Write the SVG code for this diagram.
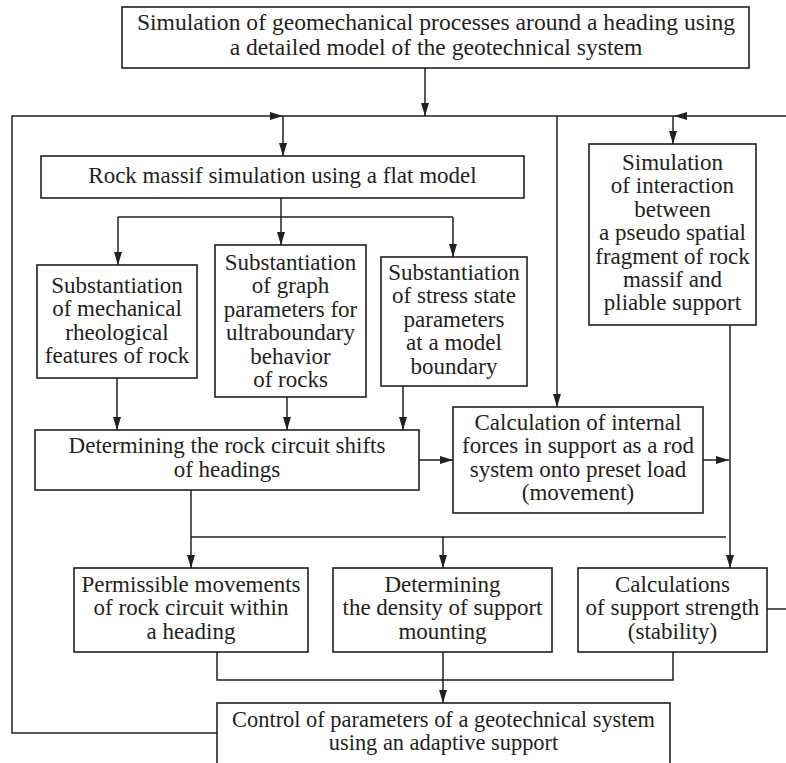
<svg xmlns="http://www.w3.org/2000/svg" width="786" height="763" viewBox="0 0 786 763">
<defs>
<marker id="ah" markerUnits="userSpaceOnUse" markerWidth="13" markerHeight="8" refX="13" refY="4" orient="auto">
<path d="M0,0 L13,4 L0,8 z" fill="#231f20"/>
</marker>
<style>
rect{fill:#fff;stroke:#231f20;stroke-width:1.6}
text{font-family:"Liberation Serif","Times New Roman",serif;font-size:23px;fill:#231f20;text-anchor:middle}
#connectors path{fill:none;stroke:#231f20;stroke-width:1.5}
.a{marker-end:url(#ah)}
</style>
</defs>
<rect x="0" y="0" width="786" height="763" style="fill:#fff;stroke:none"/>
<g id="connectors">
<path class="a" d="M425,68 V116"/>
<path class="a" d="M217,733 H12 V116 H283"/>
<path d="M283,116 H674"/>
<path class="a" d="M786,116 H674"/>
<path class="a" d="M283,116 V156"/>
<path class="a" d="M557,116 V407"/>
<path class="a" d="M673,116 V144"/>
<path class="a" d="M281,198 V245"/>
<path d="M118,217 H453"/>
<path class="a" d="M118,217 V265"/>
<path class="a" d="M453,217 V257"/>
<path class="a" d="M117,378 V430"/>
<path class="a" d="M287,397 V430"/>
<path class="a" d="M403,386 V430"/>
<path class="a" d="M419,460 H453"/>
<path class="a" d="M703,460 H729"/>
<path class="a" d="M730,325 V568"/>
<path class="a" d="M191,490 V568"/>
<path d="M191,537 H726"/>
<path class="a" d="M443,537 V568"/>
<path d="M767,609 H786"/>
<path d="M217,652 V680 H673 V652"/>
<path class="a" d="M443,652 V703"/>
</g>
<g id="top">
<rect x="122" y="7" width="627" height="61"/>
<text x="436" y="30" style="font-size:23.6px">Simulation of geomechanical processes around a heading using</text>
<text x="436" y="55" style="font-size:23.6px">a detailed model of the geotechnical system</text>
</g>
<g id="rock">
<rect x="41" y="156" width="483" height="42"/>
<text x="282.5" y="183">Rock massif simulation using a flat model</text>
</g>
<g id="sim">
<rect x="589" y="144" width="167" height="181"/>
<text x="672.5" y="170">Simulation</text>
<text x="672.5" y="193.4">of interaction</text>
<text x="672.5" y="216.8">between</text>
<text x="672.5" y="240.2">a pseudo spatial</text>
<text x="672.5" y="263.6">fragment of rock</text>
<text x="672.5" y="287">massif and</text>
<text x="672.5" y="310.4">pliable support</text>
</g>
<g id="sub1">
<rect x="37" y="265" width="160" height="113"/>
<text x="117" y="293">Substantiation</text>
<text x="117" y="316.4">of mechanical</text>
<text x="117" y="339.8">rheological</text>
<text x="117" y="363.2">features of rock</text>
</g>
<g id="sub2">
<rect x="215" y="245" width="151" height="152"/>
<text x="290.5" y="270">Substantiation</text>
<text x="290.5" y="293.4">of graph</text>
<text x="290.5" y="316.8">parameters for</text>
<text x="290.5" y="340.2">ultraboundary</text>
<text x="290.5" y="363.6">behavior</text>
<text x="290.5" y="387">of rocks</text>
</g>
<g id="sub3">
<rect x="381" y="257" width="146" height="129"/>
<text x="454" y="280">Substantiation</text>
<text x="454" y="303.4">of stress state</text>
<text x="454" y="326.8">parameters</text>
<text x="454" y="350.2">at a model</text>
<text x="454" y="373.6">boundary</text>
</g>
<g id="det">
<rect x="35" y="430" width="384" height="60"/>
<text x="227" y="453">Determining the rock circuit shifts</text>
<text x="227" y="477">of headings</text>
</g>
<g id="calc">
<rect x="453" y="407" width="250" height="106"/>
<text x="578" y="430">Calculation of internal</text>
<text x="578" y="453.4">forces in support as a rod</text>
<text x="578" y="476.8">system onto preset load</text>
<text x="578" y="500.2">(movement)</text>
</g>
<g id="perm">
<rect x="74" y="568" width="234" height="84"/>
<text x="191" y="592">Permissible movements</text>
<text x="191" y="615.4">of rock circuit within</text>
<text x="191" y="638.8">a heading</text>
</g>
<g id="dens">
<rect x="333" y="568" width="219" height="84"/>
<text x="442.5" y="592">Determining</text>
<text x="442.5" y="615.4">the density of support</text>
<text x="442.5" y="638.8">mounting</text>
</g>
<g id="strength">
<rect x="578" y="568" width="189" height="84"/>
<text x="672.5" y="592">Calculations</text>
<text x="672.5" y="615.4">of support strength</text>
<text x="672.5" y="638.8">(stability)</text>
</g>
<g id="control">
<rect x="217" y="703" width="453" height="80"/>
<text x="443.5" y="727" style="font-size:22.4px">Control of parameters of a geotechnical system</text>
<text x="443.5" y="750.4" style="font-size:22.4px">using an adaptive support</text>
</g>
</svg>
